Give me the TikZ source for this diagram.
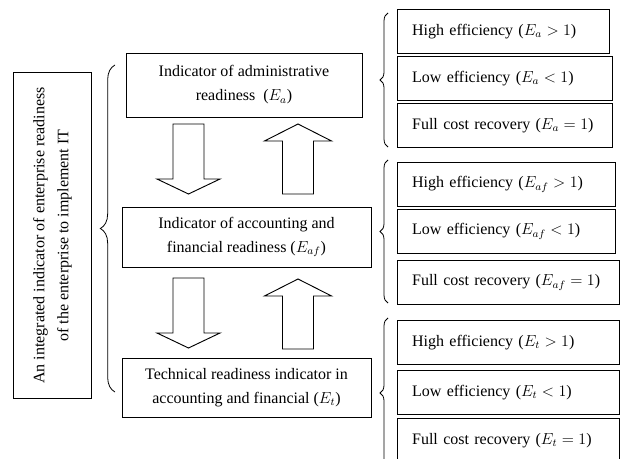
\documentclass[tikz,border=0pt]{standalone}
\usepackage{fontspec}
\setmainfont{Liberation Serif}
\usetikzlibrary{decorations.pathreplacing}

\tikzset{
  box/.style={draw, line width=0.7pt, align=center, font=\fontsize{12}{18}\selectfont},
  rbox/.style={draw, line width=0.7pt, anchor=north west, align=left, inner xsep=11pt,
    inner ysep=0pt, text width=#1, minimum height=33pt, font=\fontsize{12}{14}\selectfont},
  curly/.style={decorate, decoration={brace, amplitude=#1}, line width=0.6pt},
  blockarrow/.style={draw, line width=0.7pt, fill=white},
  downblock/.pic={
    \path[blockarrow] (-15.5,0) -- (15.5,0) -- (15.5,55) -- (31.5,55) -- (0,70)
      -- (-31.5,55) -- (-15.5,55) -- cycle;
  },
  upblock/.pic={
    \path[blockarrow] (-15.5,0) -- (15.5,0) -- (15.5,-53) -- (33.5,-53) -- (0,-70)
      -- (-33.5,-53) -- (-15.5,-53) -- cycle;
  }
}

\begin{document}
\begin{tikzpicture}[x=0.75pt, y=-0.75pt]
        \path[use as bounding box] (0,0) rectangle (620,459);
        \clip (0,0) rectangle (620,459);

        % left side
        \node[box, rotate=90, minimum width=245pt, minimum height=58pt] (main) at (52.5,235.5)
          {An integrated indicator of enterprise readiness\\of the enterprise to implement IT};
        \draw[curly=11pt] (115,392) -- (115,65);

        % middle column
        \node[box, minimum width=177pt, minimum height=48pt] (adm) at (244,85)
          {Indicator of administrative\\readiness\enspace($E_a$)};
        \node[box, minimum width=186.75pt, minimum height=45pt] (acc) at (246.5,237)
          {Indicator of accounting and\\financial readiness ($E_{af}$)};
        \node[box, minimum width=186.75pt, minimum height=44.25pt] (tech) at (246.5,387.5)
          {Technical readiness indicator in\\accounting and financial ($E_t$)};

        \pic at (188.5,124) {downblock};
        \pic at (298,194) {upblock};
        \pic at (188.5,278) {downblock};
        \pic at (298,349) {upblock};

        % right column, group a
        \draw[curly=6pt] (388,147) -- (388,13);
        \node[rbox=137pt] (higha) at (397,9) {High efficiency ($E_a > 1$)};
        \node[rbox=139pt] (lowa) at (397,56) {Low efficiency ($E_a < 1$)};
        \node[rbox=139pt] (fulla) at (397,103) {Full cost recovery ($E_a = 1$)};

        % group af
        \draw[curly=6pt] (388,303) -- (388,160);
        \node[rbox=141.5pt] (highaf) at (397,162) {High efficiency ($E_{af} > 1$)};
        \node[rbox=141.5pt] (lowaf) at (397,209) {Low efficiency ($E_{af} < 1$)};
        \node[rbox=144.5pt] (fullaf) at (397,260) {Full cost recovery ($E_{af} = 1$)};

        % group t
        \draw[curly=6pt] (388,468) -- (388,318);
        \node[rbox=144.5pt] (hight) at (397,320) {High efficiency ($E_t > 1$)};
        \node[rbox=144.5pt] (lowt) at (397,370) {Low efficiency ($E_t < 1$)};
        \node[rbox=144.5pt] (fullt) at (397,418) {Full cost recovery ($E_t = 1$)};
\end{tikzpicture}
\end{document}
